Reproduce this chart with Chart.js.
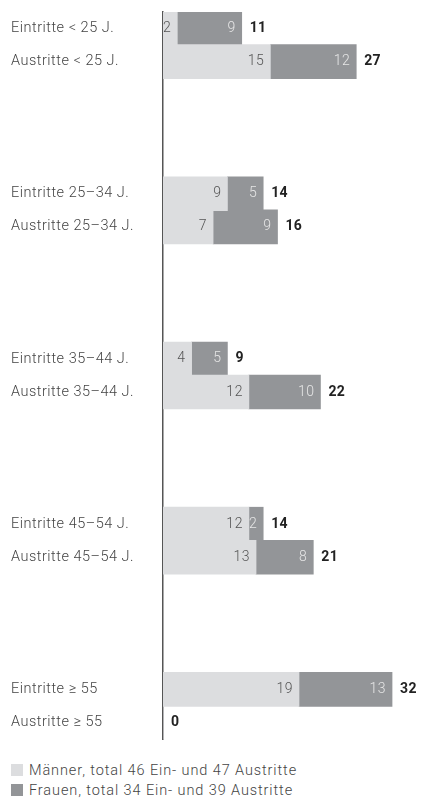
<!DOCTYPE html>
<html>
<head>
<meta charset="utf-8">
<script src="https://cdn.jsdelivr.net/npm/chart.js@4/dist/chart.umd.min.js"></script>
<style>
  body { margin: 0; background: #fff; }
  #legend { font: 300 14.5px Roboto, sans-serif; letter-spacing: 0.9px; color: #444; padding: 9px 0 0 11px; }
  #legend div { height: 20px; line-height: 20px; }
  #legend span { display: inline-block; width: 12px; height: 12px; margin-right: 6px; vertical-align: -1px; }
</style>
</head>
<body>
<canvas id="chart" width="439" height="752"></canvas>
<div id="legend"></div>
<script>
const rowLabels = [
  "Eintritte < 25 J.", "Austritte < 25 J.",
  "Eintritte 25–34 J.", "Austritte 25–34 J.",
  "Eintritte 35–44 J.", "Austritte 35–44 J.",
  "Eintritte 45–54 J.", "Austritte 45–54 J.",
  "Eintritte ≥ 55", "Austritte ≥ 55"
];
const men = [2, 15, 9, 7, 4, 12, 12, 13, 19, 0];
const women = [9, 12, 5, 9, 5, 10, 2, 8, 13, 0];
const seriesNames = ["Männer, total 46 Ein- und 47 Austritte", "Frauen, total 34 Ein- und 39 Austritte"];
const colors = ["#dcdddf", "#939598"];
const valueColors = ["#555", "#e6e6e6"];

// two rows per age group, three empty rows between groups
let labels = [], menRows = [], womenRows = [];
rowLabels.forEach((l, i) => {
  if (i > 0 && i % 2 === 0) {
    for (let k = 0; k < 3; k++) { labels.push(""); menRows.push(null); womenRows.push(null); }
  }
  labels.push(l); menRows.push(men[i]); womenRows.push(women[i]);
});

const barText = {
  id: "barText",
  beforeDraw(chart) {
    chart.ctx.letterSpacing = "0.5px";
  },
  afterDatasetsDraw(chart) {
    const ctx = chart.ctx;
    ctx.save();
    ctx.textBaseline = "middle";
    ctx.letterSpacing = "0.5px";
    chart.data.datasets.forEach((ds, d) => {
      chart.getDatasetMeta(d).data.forEach((bar, i) => {
        const v = ds.data[i];
        if (!v) return;
        ctx.font = "300 14px Roboto";
        ctx.fillStyle = valueColors[d];
        ctx.textAlign = "right";
        ctx.fillText(v, bar.x - 6, bar.y);
      });
    });
    const last = chart.getDatasetMeta(1).data;
    ctx.letterSpacing = "0.3px";
    labels.forEach((l, i) => {
      if (!l) return;
      const total = menRows[i] + womenRows[i];
      ctx.font = "bold 14px Roboto";
      ctx.fillStyle = "#222";
      ctx.textAlign = "left";
      ctx.fillText(total, last[i].x + 8, last[i].y);
    });
    ctx.restore();
  }
};

new Chart("chart", {
  type: "bar",
  data: {
    labels: labels,
    datasets: [
      { label: seriesNames[0], data: menRows, backgroundColor: colors[0] },
      { label: seriesNames[1], data: womenRows, backgroundColor: colors[1] }
    ]
  },
  options: {
    indexAxis: "y",
    responsive: false,
    animation: false,
    datasets: { bar: { barPercentage: 1, categoryPercentage: 1, barThickness: 34 } },
    layout: { padding: { top: 12, bottom: 13, left: 11, right: 4 } },
    scales: {
      x: { stacked: true, min: 0, max: 38, display: false },
      y: {
        stacked: true,
        grid: { display: false, drawTicks: false },
        border: { color: "#555", width: 1.5 },
        ticks: { crossAlign: "far", color: "#444", font: { family: "Roboto", size: 14.5, weight: 300 }, autoSkip: false },
        afterFit(s) { s.width = 152; }
      }
    },
    plugins: { legend: { display: false }, tooltip: { enabled: false } }
  },
  plugins: [barText]
});

document.getElementById("legend").innerHTML = seriesNames
  .map((n, i) => `<div><span style="background:${colors[i]}"></span>${n}</div>`).join("");
</script>
</body>
</html>
